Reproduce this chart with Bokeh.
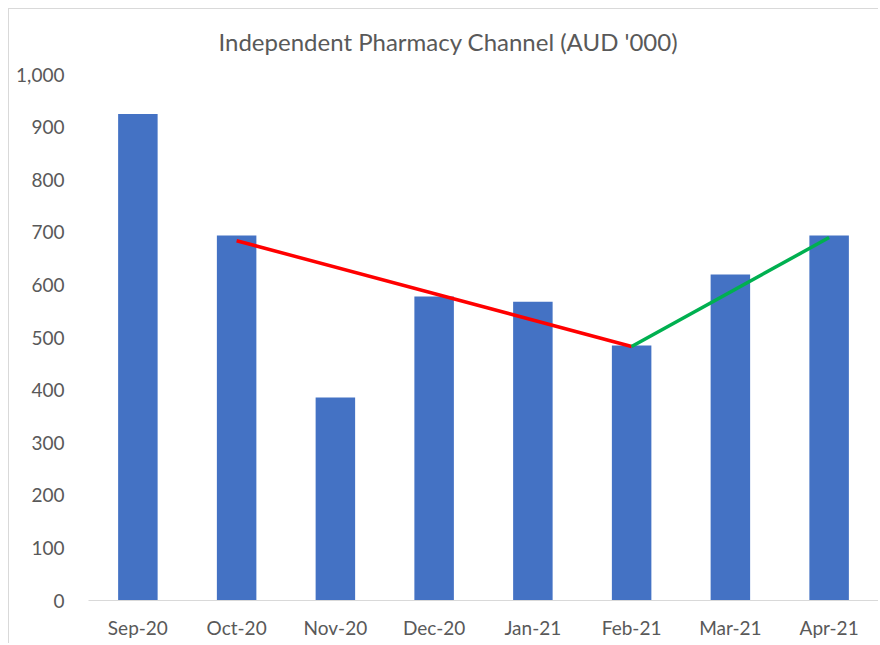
from bokeh.plotting import figure
from bokeh.models import Range1d, FactorRange, NumeralTickFormatter, FixedTicker, ColumnDataSource, Title
from bokeh.embed import file_html
from bokeh.resources import INLINE

months = ["Sep-20", "Oct-20", "Nov-20", "Dec-20", "Jan-21", "Feb-21", "Mar-21", "Apr-21"]
sales = [925, 694, 386, 578, 568, 485, 620, 694]

down_months = ["Oct-20", "Feb-21"]
down_values = [684, 483]
up_months = ["Feb-21", "Apr-21"]
up_values = [483, 690]

y_ticks = [0, 100, 200, 300, 400, 500, 600, 700, 800, 900, 1000]

FONT = "Lato"
GREY = "#595959"

p = figure(width=870, height=635, x_range=FactorRange(*months), y_range=Range1d(0, 1000),
           output_backend="svg", toolbar_location=None, tools="",
           min_border_left=79, min_border_right=1, min_border_top=65, min_border_bottom=44)

p.styles = {"border-left": "1px solid #d9d9d9", "border-top": "1px solid #d9d9d9",
            "margin-left": "8px", "margin-top": "8px"}

t = Title(text="Independent Pharmacy Channel (AUD '000)", align="left", vertical_align="top",
          text_font=FONT, text_font_size="24px", text_font_style="normal",
          text_color=GREY, offset=130, standoff=33)
p.add_layout(t, "above")

src = ColumnDataSource(dict(month=months, sales=sales))
p.vbar(x="month", top="sales", width=0.4, source=src, fill_color="#4472C4", line_color=None)

p.line(down_months, down_values, line_color="#FF0000", line_width=3.5)
p.line(up_months, up_values, line_color="#00B050", line_width=3.5)

p.outline_line_color = None
p.xgrid.grid_line_color = None
p.ygrid.grid_line_color = None

p.yaxis.ticker = FixedTicker(ticks=y_ticks)
p.yaxis.formatter = NumeralTickFormatter(format="0,0")
p.yaxis.axis_line_color = None
p.yaxis.major_tick_line_color = None
p.yaxis.minor_tick_line_color = None
p.yaxis.major_label_standoff = 18
p.yaxis.major_label_text_font = FONT
p.yaxis.major_label_text_font_size = "19px"
p.yaxis.major_label_text_color = GREY

p.xaxis.axis_line_color = "#d9d9d9"
p.xaxis.axis_line_width = 1
p.xaxis.major_tick_line_color = None
p.xaxis.minor_tick_line_color = None
p.xaxis.major_label_standoff = 9
p.xaxis.major_label_text_font = FONT
p.xaxis.major_label_text_font_size = "19px"
p.xaxis.major_label_text_color = GREY

open("out.html", "w").write(file_html(p, INLINE))
